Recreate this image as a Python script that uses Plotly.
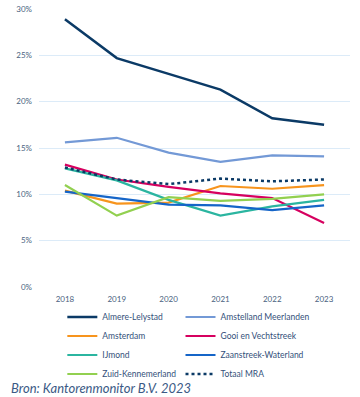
import plotly.graph_objects as go

years = [2018, 2019, 2020, 2021, 2022, 2023]
almere = [28.9, 24.7, 23.0, 21.3, 18.2, 17.5]
amstelland = [15.6, 16.1, 14.5, 13.5, 14.2, 14.1]
amsterdam = [10.4, 9.0, 9.1, 10.9, 10.6, 11.0]
gooi = [13.2, 11.6, 10.8, 10.1, 9.6, 6.9]
ijmond = [12.8, 11.5, 9.4, 7.7, 8.7, 9.4]
zaanstreek = [10.3, 9.6, 8.9, 8.8, 8.3, 8.8]
zuidkennemerland = [11.0, 7.7, 9.7, 9.3, 9.5, 10.0]
totaal = [12.9, 11.6, 11.1, 11.7, 11.4, 11.6]

# (name, values, colour, dash, width, legend column)
series = [
    ("Almere-Lelystad", almere, "#0B3A66", "solid", 2.5, "legend"),
    ("Amstelland Meerlanden", amstelland, "#7399D6", "solid", 2.2, "legend2"),
    ("Amsterdam", amsterdam, "#F7941D", "solid", 2.2, "legend"),
    ("Gooi en Vechtstreek", gooi, "#D6005F", "solid", 2.2, "legend2"),
    ("IJmond", ijmond, "#2BB5A0", "solid", 2.2, "legend"),
    ("Zaanstreek-Waterland", zaanstreek, "#1565C8", "solid", 2.2, "legend2"),
    ("Zuid-Kennemerland", zuidkennemerland, "#92D050", "solid", 2.2, "legend"),
    ("Totaal MRA", totaal, "#0B3A66", "dot", 2.5, "legend2"),
]

fig = go.Figure()
for name, vals, color, dash, w, leg in series:
    fig.add_trace(go.Scatter(
        x=years, y=[v / 100 for v in vals], name=name, mode="lines",
        line=dict(color=color, width=w, dash=dash), legend=leg,
    ))

legend_common = dict(orientation="v", xanchor="left", yref="container",
                     y=0.238, yanchor="top", font=dict(size=8.5, color="#34507A"),
                     itemwidth=30, bgcolor="rgba(0,0,0,0)", tracegroupgap=0)

fig.update_layout(
    width=360, height=397,
    margin=dict(l=39, r=10, t=9, b=110, autoexpand=False),
    paper_bgcolor="white", plot_bgcolor="white",
    font=dict(family="Lato, sans-serif", size=8, color="#4A5F80"),
    xaxis=dict(range=[2017.5, 2023.5], tickmode="array", tickvals=years,
               showgrid=False, zeroline=False, showline=False, ticks="",
               ticklabelstandoff=6,
               tickfont=dict(size=8, color="#4A5F80")),
    yaxis=dict(range=[0, 0.30], dtick=0.05, tickformat=".0%",
               showgrid=True, gridcolor="#DCEBF8", gridwidth=1,
               zeroline=False, showline=False, ticks="",
               ticklabelstandoff=6,
               tickfont=dict(size=8, color="#4A5F80")),
    legend=dict(x=0.075, **legend_common),
    legend2=dict(x=0.455, **legend_common),
    showlegend=True,
)

fig.add_annotation(
    text="<i>Bron: Kantorenmonitor B.V. 2023</i>",
    xref="paper", yref="paper", x=-0.095, y=-0.363, xanchor="left", yanchor="middle",
    showarrow=False, font=dict(size=13, color="#3B5A85"),
)

fig.write_html("out.html", config={"displayModeBar": False},
               post_script="document.body.style.margin='0';")
